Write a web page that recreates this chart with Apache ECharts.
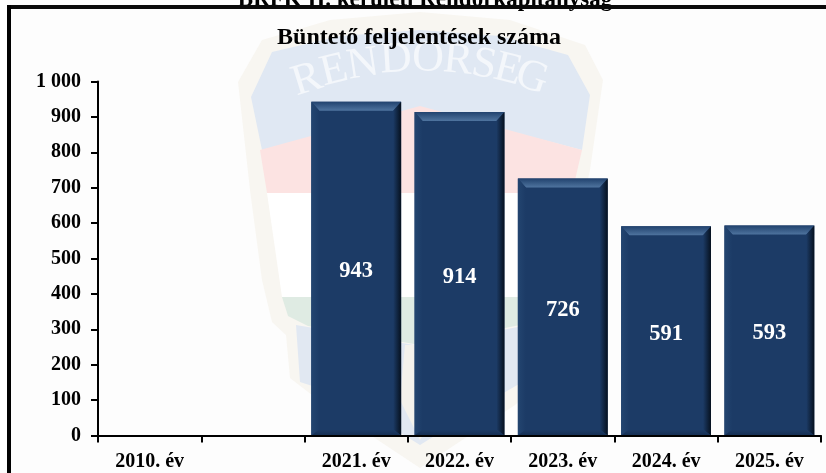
<!DOCTYPE html>
<html><head><meta charset="utf-8">
<style>html,body{margin:0;padding:0;background:#fff}#c{width:826px;height:473px}</style>
<script src="https://cdn.jsdelivr.net/npm/echarts@6/dist/echarts.min.js"></script>
</head><body><div id="c"></div>
<script>
const categories = ['2010. év', '', '2021. év', '2022. év', '2023. év', '2024. év', '2025. év'];
const reports = [null, null, 943, 914, 726, 591, 593];
const valueTicks = [0, 100, 200, 300, 400, 500, 600, 700, 800, 900, 1000];
const pageTitle = 'BRFK II. kerületi Rendőrkapitányság';
const chartTitle = 'Büntető feljelentések száma';
const badgeWord = ['R','E','N','D','O','R','S','E','G'];

const FONT = '"Liberation Serif","Times New Roman",serif';
const chart = echarts.init(document.getElementById('c'), null, {renderer: 'canvas'});
const poly = (points, fill, z) => ({type: 'polygon', silent: true, z: z || 1, shape: {points}, style: {fill}});
const grad = (x, y, x2, y2, a, b) => new echarts.graphic.LinearGradient(x, y, x2, y2, [{offset: 0, color: a}, {offset: 1, color: b}]);

const letterPos = [[307,80,.30],[334,71,.24],[363,65,.15],[396,60,.06],[428,59,-.03],[458,61,-.1],[484,65,-.18],[508,70,-.25],[532,78,-.32]];
const letters = badgeWord.map((ch, i) => ({
  type: 'text', silent: true, z: 6, x: letterPos[i][0], y: letterPos[i][1], rotation: letterPos[i][2],
  style: {text: ch, fill: '#f4f7fb', font: '44px ' + FONT, align: 'center', verticalAlign: 'middle'}
}));

const graphics = [
  {type: 'rect', silent: true, z: 0, shape: {x: 0, y: 0, width: 826, height: 473}, style: {fill: '#fdfdfd'}},
  // faint police badge behind the chart
  poly([[238,82],[262,40],[330,20],[420,12],[510,20],[585,45],[603,80],[590,170],[570,260],[552,325],[535,340],[536,385],[515,405],[420,468],[325,405],[290,378],[286,335],[272,322],[262,280],[250,190]], '#f8f6f1', 1),
  poly([[251,97],[272,52],[340,36],[420,30],[500,36],[568,55],[590,95],[582,150],[420,108],[262,150]], '#e0e8f3', 2),
  poly([[260,150],[420,106],[582,150],[572,193],[267,193]], '#fce3e2', 2),
  poly([[267,193],[572,193],[556,297],[282,297]], '#ffffff', 2),
  poly([[282,297],[556,297],[548,318],[520,325],[420,345],[308,326],[288,316]], '#dfebe3', 2),
  poly([[296,325],[420,346],[528,325],[526,380],[500,395],[420,445],[340,395],[300,382]], '#e1e8f2', 2),
  poly([[405,345],[440,345],[445,400],[420,440],[400,400]], '#f4f2ec', 3),
  ...letters,
  // frame: top and left rules
  {type: 'rect', silent: true, z: 30, shape: {x: 7, y: 5, width: 819, height: 4}, style: {fill: '#0a0a0a'}},
  {type: 'rect', silent: true, z: 30, shape: {x: 7, y: 5, width: 4, height: 468}, style: {fill: '#000'}}
];

chart.setOption({
  animation: false,
  backgroundColor: 'transparent',
  title: [
    {text: pageTitle, left: 420, top: -16, textAlign: 'center', textStyle: {fontFamily: FONT, fontSize: 23, fontWeight: 'bold', color: '#000'}},
    {text: chartTitle, left: 414, top: 21, textAlign: 'center', textStyle: {fontFamily: FONT, fontSize: 24, fontWeight: 'bold', color: '#000'}}
  ],
  graphic: graphics,
  grid: {left: 98, right: 5, top: 81.5, height: 354, containLabel: false},
  xAxis: {
    type: 'category', data: categories, z: 8,
    axisLine: {lineStyle: {color: '#000', width: 2}},
    axisTick: {show: true, length: 7, lineStyle: {color: '#000', width: 2}},
    axisLabel: {interval: 0, margin: 16, fontFamily: FONT, fontSize: 20, fontWeight: 'bold', color: '#000'}
  },
  yAxis: {
    type: 'value', min: valueTicks[0], max: valueTicks[valueTicks.length - 1], interval: 100,
    splitLine: {show: false}, z: 8,
    axisLine: {show: true, lineStyle: {color: '#000', width: 2}},
    axisTick: {show: true, length: 7, lineStyle: {color: '#000', width: 2}},
    axisLabel: {margin: 17, fontFamily: FONT, fontSize: 20, fontWeight: 'bold', color: '#000',
      formatter: v => v >= 1000 ? String(v).replace(/(\d)(\d{3})$/, '$1 $2') : String(v)}
  },
  series: [
    {
      type: 'bar', data: reports, barWidth: '87%', z: 5,
      itemStyle: {color: '#1c3b66'},
      label: {show: true, position: 'inside', offset: [0, 3], fontFamily: FONT, fontSize: 22.5, fontWeight: 'bold', color: '#fff'}
    },
    {
      type: 'custom', z: 6, silent: true,
      data: reports.map((v, i) => [i, v]),
      encode: {x: 0, y: 1},
      renderItem(params, api) {
        const v = api.value(1);
        if (v == null || isNaN(v)) return null;
        const top = api.coord([api.value(0), v]);
        const base = api.coord([api.value(0), 0]);
        const w = api.size([1, 0])[0] * 0.87;
        const l = top[0] - w / 2, r = top[0] + w / 2, t = top[1], b = base[1];
        const T = 9, S = 8, B = 6;
        return {type: 'group', children: [
          {type: 'polygon', shape: {points: [[l,t],[r,t],[r-S,t+T],[l+S,t+T]]}, style: {fill: grad(0,0,0,1,'#21426e','#4f749f')}},
          {type: 'polygon', shape: {points: [[l,t],[l+S,t+T],[l+S,b-B],[l,b]]}, style: {fill: grad(0,0,1,0,'#234570','#1c3b66')}},
          {type: 'polygon', shape: {points: [[r,t],[r,b],[r-S,b-B],[r-S,t+T]]}, style: {fill: grad(0,0,1,0,'#1c3b66','#06111f')}},
          {type: 'polygon', shape: {points: [[l,b],[l+S,b-B],[r-S,b-B],[r,b]]}, style: {fill: grad(0,0,0,1,'#1c3b66','#152f53')}}
        ]};
      }
    }
  ]
});
</script></body></html>
